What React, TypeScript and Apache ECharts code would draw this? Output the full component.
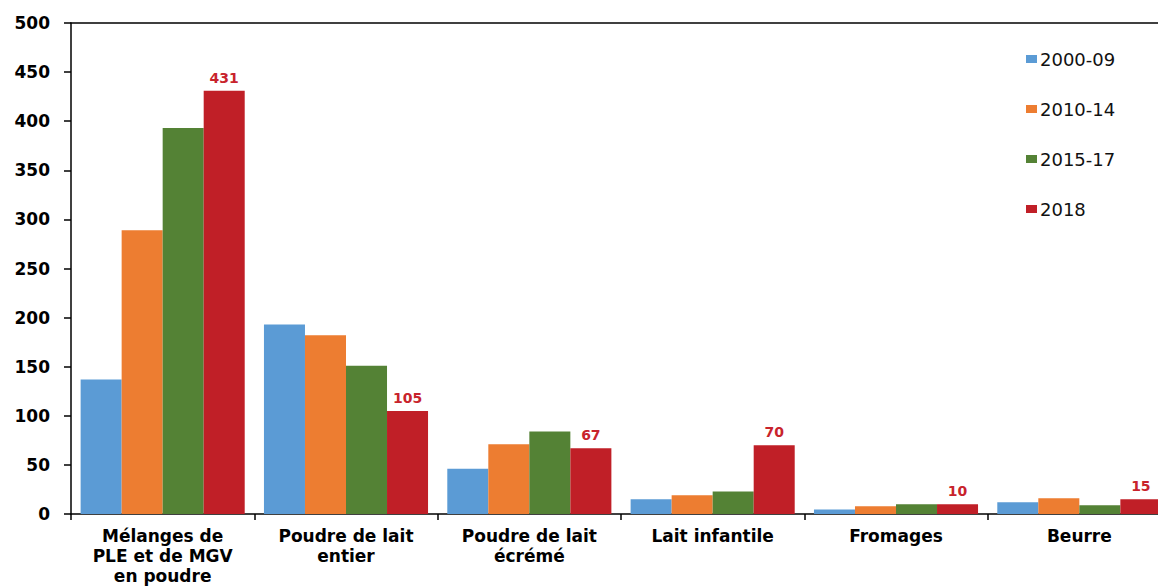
import React, { useEffect, useRef } from "react";
import * as echarts from "echarts";

const categories = [
  "Mélanges de\nPLE et de MGV\nen poudre",
  "Poudre de lait\nentier",
  "Poudre de lait\nécrémé",
  "Lait infantile",
  "Fromages",
  "Beurre",
];
const seriesNames = ["2000-09", "2010-14", "2015-17", "2018"];
const s2000_09 = [137, 193, 46, 15, 4.5, 12];
const s2010_14 = [289, 182, 71, 19, 8, 16];
const s2015_17 = [393, 151, 84, 23, 10, 9];
const s2018 = [431, 105, 67, 70, 10, 15];
const colors = ["#5B9BD5", "#ED7D31", "#548235", "#C01F27"];
const yTicks = { min: 0, max: 500, interval: 50 };

export default function App() {
  const ref = useRef<HTMLDivElement>(null);
  useEffect(() => {
    if (!ref.current) return;
    const chart = echarts.init(ref.current, null, { renderer: "svg" });
    const font = "'DejaVu Sans', Verdana, sans-serif";
    const data = [s2000_09, s2010_14, s2015_17, s2018];
    chart.setOption({
      animation: false,
      backgroundColor: "#ffffff",
      textStyle: { fontFamily: font },
      legend: {
        orient: "vertical",
        left: 1021,
        top: 45,
        itemGap: 32,
        itemWidth: 11,
        itemHeight: 8,
        icon: "rect",
        data: seriesNames,
        textStyle: { fontSize: 18, color: "#111", fontFamily: font, padding: [0, 0, 0, -2] },
      },
      grid: { left: 71, right: 4, top: 23, bottom: 64, containLabel: false },
      xAxis: [
        {
          type: "category",
          data: categories,
          axisLine: { lineStyle: { color: "#000", width: 1.5 } },
          axisTick: { show: true, length: 6, lineStyle: { color: "#000", width: 1.5 } },
          axisLabel: {
            interval: 0,
            fontSize: 17,
            fontWeight: "bold",
            color: "#000",
            lineHeight: 20,
            margin: 12,
            fontFamily: font,
          },
        },
        {
          type: "category",
          position: "top",
          data: categories,
          axisLine: { show: true, lineStyle: { color: "#000", width: 1.5 } },
          axisTick: { show: false },
          axisLabel: { show: false },
        },
      ],
      yAxis: {
        type: "value",
        min: yTicks.min,
        max: yTicks.max,
        interval: yTicks.interval,
        axisLine: { show: true, lineStyle: { color: "#000", width: 1.5 } },
        axisTick: { show: true, length: 7, inside: false, lineStyle: { color: "#000", width: 1.5 } },
        splitLine: { show: false },
        axisLabel: { fontSize: 17, fontWeight: "bold", color: "#000", margin: 21, fontFamily: font },
      },
      series: seriesNames.map((name, i) => ({
        name,
        type: "bar",
        xAxisIndex: 0,
        data: data[i],
        barGap: "0%",
        barCategoryGap: "10.5%",
        itemStyle: { color: colors[i] },
        label:
          i === 3
            ? {
                show: true,
                position: "top",
                distance: 6,
                color: "#C8232C",
                fontWeight: "bold",
                fontSize: 14,
                fontFamily: font,
              }
            : { show: false },
      })),
    });
    return () => chart.dispose();
  }, []);
  return (
    <div style={{ position: "fixed", left: 0, top: 0, width: 1158, height: 586, overflow: "hidden", background: "#fff" }}>
      <div ref={ref} style={{ width: 1175, height: 586 }} />
    </div>
  );
}
